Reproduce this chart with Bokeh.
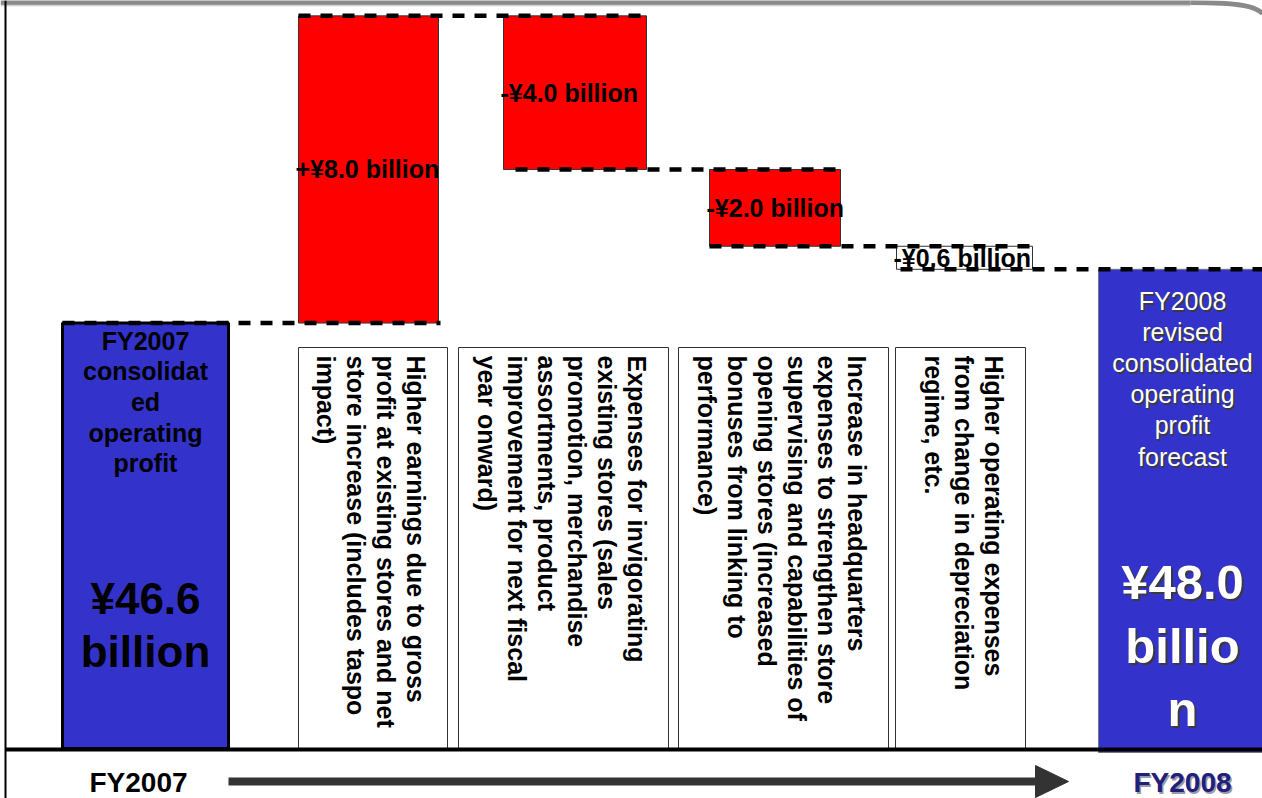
import math
import numpy as np
from bokeh.plotting import figure
from bokeh.models import Range1d
from bokeh.core.properties import value
from bokeh.embed import file_html
from bokeh.resources import INLINE

# ---- operating profit bridge, ¥ billion ----
opening_year = "FY2007"
closing_year = "FY2008"
opening_profit = 46.6
change_values = [8.0, -4.0, -2.0, -0.6]
closing_profit = 48.0

opening_caption = ["FY2007", "consolidat", "ed", "operating", "profit"]
closing_caption = ["FY2008", "revised", "consolidated", "operating", "profit", "forecast"]
change_notes = [
    ["Higher earnings due to gross",
     "profit at existing stores and net",
     "store increase (includes taspo",
     "impact)"],
    ["Expenses for invigorating",
     "existing stores (sales",
     "promotion, merchandise",
     "assortments, product",
     "improvement for next fiscal",
     "year onward)"],
    ["Increase in headquarters",
     "expenses to strengthen store",
     "supervising and capabilities of",
     "opening stores (increased",
     "bonuses from linking to",
     "performance)"],
    ["Higher operating expenses",
     "from change in depreciation",
     "regime, etc."],
]

# ---- layout ----
W, H = 1262, 798
PX_PER_B = 38.4          # screen pixels per ¥1 billion
Y_TOP = 55.0
Y_BOT = Y_TOP - H / PX_PER_B
BASE_PX = 748


def b_at(px):
    """Billion-yen level that sits at a given screen row."""
    return Y_TOP - px / PX_PER_B


FONT = value("Liberation Sans")
BLUE = "#3333CC"
RED = "#FF0000"

STEP_LEFT = [298, 503, 709, 896]
STEP_RIGHT = [438, 646, 840, 1032]
STEP_FILL = [RED, RED, RED, "#FFFFFF"]
CONNECTOR_X = [(62, 440), (298, 646), (515, 840), (709, 1032), (900, 1262)]
NOTE_LEFT = [298, 458, 678, 895]
NOTE_RIGHT = [447, 668, 888, 1025]

p = figure(width=W, height=H, x_range=Range1d(0, W), y_range=Range1d(Y_BOT, Y_TOP),
           output_backend="svg", toolbar_location=None, min_border=0,
           x_axis_location=None, y_axis_location=None)
p.grid.visible = False
p.outline_line_color = None
p.background_fill_color = "white"
p.border_fill_color = "white"
p.extra_y_ranges = {"px": Range1d(H, 0)}

# ---- note boxes under the steps ----
p.quad(left=NOTE_LEFT, right=NOTE_RIGHT, top=[347] * 4, bottom=[BASE_PX] * 4,
       fill_color="white", line_color="#333333", line_width=1, y_range_name="px")

nx, ny, nt = [], [], []
for j, lines in enumerate(change_notes):
    for i, line in enumerate(lines):
        nx.append(NOTE_RIGHT[j] - 32 - i * 30)
        ny.append(355)
        nt.append(line)
p.text(x=nx, y=ny, text=nt, angle=-math.pi / 2, text_align="left", text_baseline="middle",
       text_font=FONT, text_font_style="bold", text_font_size="25px", text_color="black",
       y_range_name="px")

# ---- opening and closing totals ----
p.quad(left=[62], right=[228], bottom=[b_at(BASE_PX)], top=[opening_profit],
       fill_color=BLUE, line_color="black", line_width=3)
p.quad(left=[1098], right=[1275], bottom=[b_at(752)], top=[closing_profit],
       fill_color=BLUE, line_color="#777777", line_width=1)

# ---- floating steps ----
levels = np.concatenate([[opening_profit], opening_profit + np.cumsum(change_values)])
step_bottom = np.minimum(levels[:-1], levels[1:])
step_top = np.maximum(levels[:-1], levels[1:])
p.quad(left=STEP_LEFT, right=STEP_RIGHT, bottom=step_bottom, top=step_top,
       fill_color=STEP_FILL, line_color="#333333", line_width=1)

# connectors between consecutive levels
p.multi_line(xs=[[a, b] for a, b in CONNECTOR_X],
             ys=[[lv, lv] for lv in levels],
             line_color="black", line_width=4.5, line_dash="12 10")

step_labels = [("+" if v > 0 else "-") + f"¥{abs(v):.1f} billion" for v in change_values]
p.text(x=[x - 3 for x in STEP_LEFT], y=(step_bottom + step_top) / 2, text=step_labels,
       text_align="left", text_baseline="middle", text_font=FONT,
       text_font_style="bold", text_font_size="25px", text_color="black")

# ---- captions inside the total bars ----
p.text(x=[145] * len(opening_caption), y=[340 + i * 30.7 for i in range(len(opening_caption))],
       text=opening_caption, text_align="center", text_baseline="middle", text_font=FONT,
       text_font_style="bold", text_font_size="25px", text_color="black", y_range_name="px")
opening_amount = [f"¥{opening_profit:.1f}", "billion"]
p.text(x=[145, 145], y=[598, 651], text=opening_amount, text_align="center",
       text_baseline="middle", text_font=FONT, text_font_style="bold",
       text_font_size="44px", text_color="black", y_range_name="px")

cap_y = [300 + i * 31.2 for i in range(len(closing_caption))]
closing_amount = [f"¥{closing_profit:.1f}", "billio", "n"]
amt_y = [581, 645, 708]
for dx, col in ((2, "#3a3a3a"), (0, "white")):
    p.text(x=[1182] * len(closing_caption), y=cap_y, text=closing_caption,
           x_offset=dx, y_offset=dx, text_align="center", text_baseline="middle",
           text_font=FONT, text_font_size="25px", text_color=col, y_range_name="px")
    p.text(x=[1182] * 3, y=amt_y, text=closing_amount, x_offset=dx, y_offset=dx,
           text_align="center", text_baseline="middle", text_font=FONT,
           text_font_style="bold", text_font_size="49px", text_color=col, y_range_name="px")

# ---- frame: top band, left rule, base line ----
p.line(x=[0, 1190], y=[2, 2], line_color="#8a8a8a", line_width=5, y_range_name="px")
p.line(x=[0, 1190], y=[5, 5], line_color="#cfcfcf", line_width=1.5, y_range_name="px")
p.bezier(x0=[1190], y0=[2], x1=[1262], y1=[13], cx0=[1240], cy0=[2], cx1=[1255], cy1=[6],
         line_color="#8a8a8a", line_width=5, y_range_name="px")
p.line(x=[5, 5], y=[0, H], line_color="black", line_width=2, y_range_name="px")
p.line(x=[5, W], y=[749, 749], line_color="black", line_width=4, y_range_name="px")

# ---- timeline arrow and year labels ----
p.line(x=[228, 1038], y=[781, 781], line_color="#333333", line_width=8, y_range_name="px")
p.patch(x=[1035, 1068, 1035], y=[765, 781, 797], fill_color="#333333", line_color="#333333",
        y_range_name="px")
p.text(x=[138], y=[782], text=[opening_year], text_align="center", text_baseline="middle",
       text_font=FONT, text_font_style="bold", text_font_size="28px", text_color="black",
       y_range_name="px")
for dx, col in ((1.5, "#9a9aa8"), (0, "#20207a")):
    p.text(x=[1182], y=[782], text=[closing_year], x_offset=dx, y_offset=dx,
           text_align="center", text_baseline="middle", text_font=FONT,
           text_font_style="bold", text_font_size="28px", text_color=col, y_range_name="px")

open("out.html", "w").write(file_html(p, INLINE))
